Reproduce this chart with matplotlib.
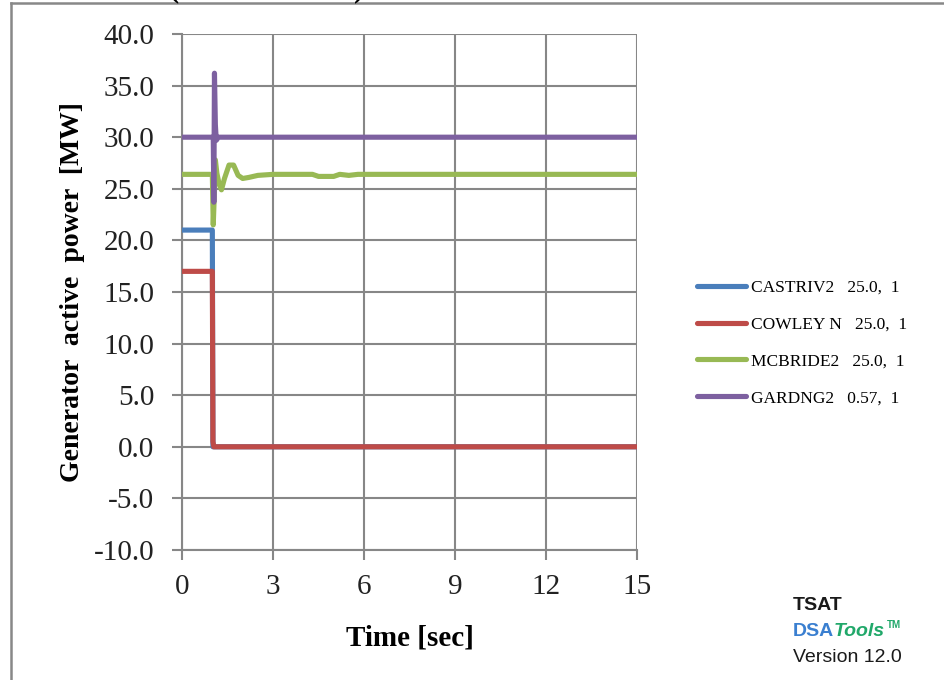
import matplotlib.pyplot as plt
from matplotlib.lines import Line2D

# series data (time in sec, power in MW)
castriv_t = [0.0, 1.0, 1.02, 1.05, 15.0]
castriv_p = [21.0, 21.0, 0.0, 0.0, 0.0]

cowley_t = [0.0, 1.0, 1.02, 1.05, 15.0]
cowley_p = [17.0, 17.0, 0.5, 0.0, 0.0]

mcbride_t = [0.0, 1.0, 1.03, 1.06, 1.1, 1.15, 1.22, 1.3, 1.4, 1.55, 1.7, 1.85,
             2.0, 2.2, 2.5, 3.0, 4.3, 4.5, 5.0, 5.2, 5.5, 5.8, 15.0]
mcbride_p = [26.4, 26.4, 21.5, 24.0, 27.8, 26.5, 25.5, 24.9, 26.0, 27.3, 27.3, 26.3,
             26.0, 26.1, 26.3, 26.4, 26.4, 26.2, 26.2, 26.4, 26.3, 26.4, 26.4]

garding_t = [0.0, 1.03, 1.05, 1.07, 1.1, 1.13, 1.2, 15.0]
garding_p = [30.0, 30.0, 23.7, 36.2, 31.2, 29.7, 30.0, 30.0]

labels = ["CASTRIV2   25.0,  1", "COWLEY N   25.0,  1",
          "MCBRIDE2   25.0,  1", "GARDNG2   0.57,  1"]
colors = ["#4a7ebb", "#be4b48", "#98b954", "#7d60a0"]

x_ticks = [0, 3, 6, 9, 12, 15]
y_ticks = [-10, -5, 0, 5, 10, 15, 20, 25, 30, 35, 40]

serif = ["Liberation Serif", "DejaVu Serif"]
sans = ["Liberation Sans", "DejaVu Sans"]

fig = plt.figure(figsize=(9.44, 6.8), dpi=100)
ax = fig.add_axes([0.1928, 0.1912, 0.482, 0.7588])

series = [(castriv_t, castriv_p), (cowley_t, cowley_p),
          (mcbride_t, mcbride_p), (garding_t, garding_p)]
for (t, p), lab, c in zip(series, labels, colors):
    ax.plot(t, p, color=c, lw=3.7, label=lab, solid_joinstyle="round",
            solid_capstyle="round", zorder=3)

ax.set_xlim(0, 15)
ax.set_ylim(-10, 40)
ax.set_xticks(x_ticks)
ax.set_yticks(y_ticks)
ax.set_yticklabels(["%.1f" % v for v in y_ticks])
ax.grid(True, color="#878787", lw=1.5)
for s in ["top", "right"]:
    ax.spines[s].set_visible(False)
for s in ["left", "bottom"]:
    ax.spines[s].set_color("#878787")
    ax.spines[s].set_linewidth(1.5)
ax.tick_params(axis="both", length=7, width=1.5, color="#878787", labelsize=21,
               labelcolor="#222222")
ax.tick_params(axis="y", pad=13)
ax.tick_params(axis="x", pad=10)
for lbl in ax.get_xticklabels() + ax.get_yticklabels():
    lbl.set_family(serif)

ax.set_xlabel("Time [sec]", family=serif, fontsize=21, fontweight="bold", labelpad=18)
ax.set_ylabel("Generator  active  power  [MW]", family=serif, fontsize=20,
              fontweight="bold", labelpad=6)

leg = ax.legend(loc="center left", frameon=False,
                prop={"family": serif, "size": 12.5}, handlelength=2.8,
                handletextpad=0.3, labelspacing=1.2, borderaxespad=0)
leg.set_bbox_to_anchor((690 / 944, 1 - 343 / 680), transform=fig.transFigure)

# TSAT logo text
fig.text(793 / 944, 1 - 606 / 680, "TSAT", family=sans, fontsize=14,
         fontweight="bold", va="center", color="#1a1a1a")
fig.text(793 / 944, 1 - 631 / 680, "DSA", family=sans, fontsize=14,
         fontweight="bold", va="center", color="#3a7fd0")
fig.text(834 / 944, 1 - 631 / 680, "Tools", family=sans, fontsize=14,
         fontweight="bold", style="italic", va="center", color="#21a86a")
fig.text(887 / 944, 1 - 625 / 680, "TM", family=sans, fontsize=7,
         fontweight="bold", va="center", color="#21a86a")
fig.text(793 / 944, 1 - 657 / 680, "Version 12.0", family=sans, fontsize=14,
         va="center", color="#1a1a1a")

# frame of the clipped screenshot and cut-off title
fig.add_artist(Line2D([11 / 944, 11 / 944], [0, 1 - 3 / 680], color="#888888", lw=1.8))
fig.add_artist(Line2D([11 / 944, 1], [1 - 3 / 680, 1 - 3 / 680], color="#888888", lw=1.8))
fig.text(174 / 944, 1 - 3 / 680, "(", family=serif, fontsize=22, fontweight="bold",
         va="bottom", ha="center")
fig.text(359 / 944, 1 - 3 / 680, ")", family=serif, fontsize=22, fontweight="bold",
         va="bottom", ha="center")

fig.savefig("out.png", dpi=100)
